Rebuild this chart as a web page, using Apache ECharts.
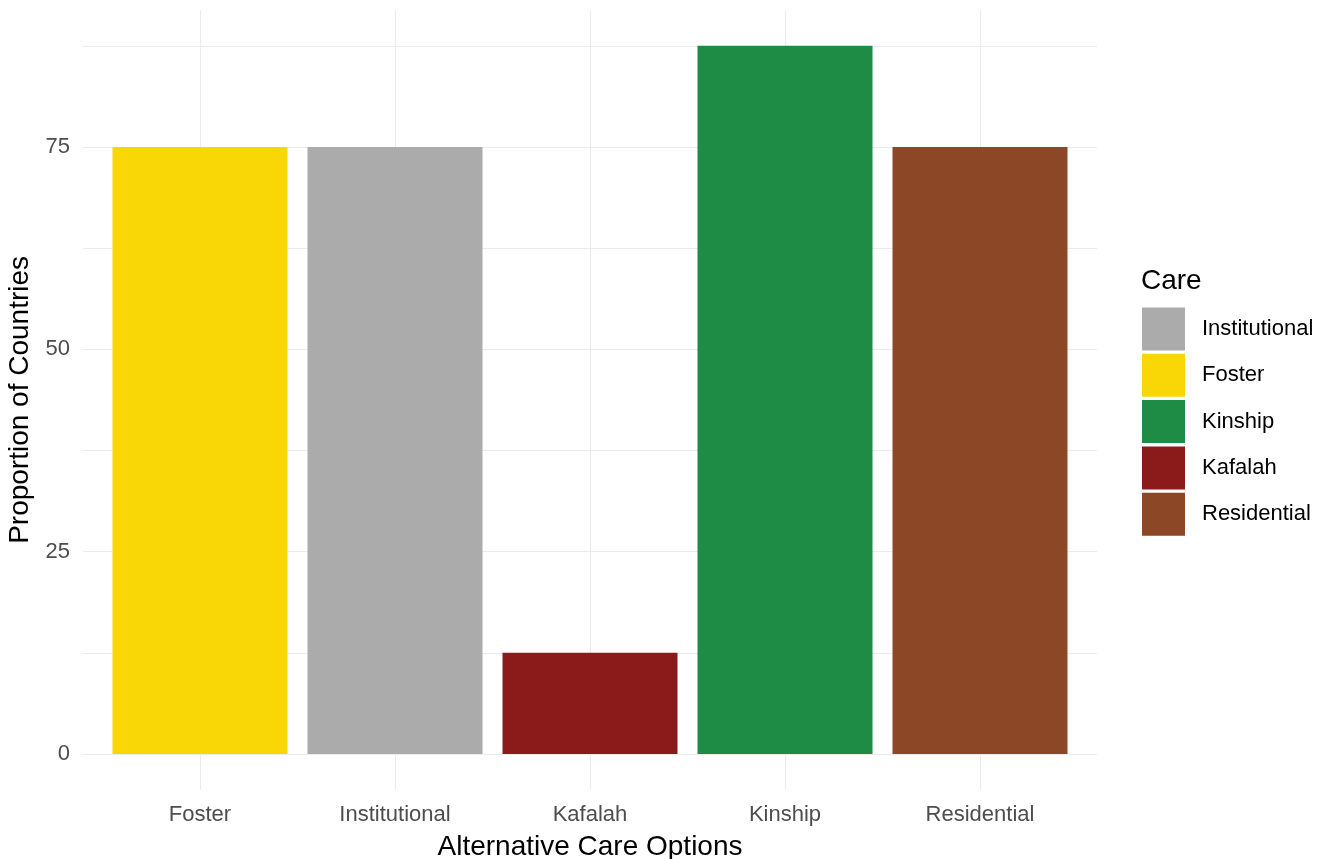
<!DOCTYPE html>
<html>
<head>
<meta charset="utf-8">
<script src="https://cdn.jsdelivr.net/npm/echarts@6/dist/echarts.min.js"></script>
<style>
  html, body { margin: 0; padding: 0; background: #fff; }
  #chart { width: 1328px; height: 859px; }
</style>
</head>
<body>
<div id="chart"></div>
<script>
// ---- data ----
const categories = ['Foster', 'Institutional', 'Kafalah', 'Kinship', 'Residential'];
const values = [75, 75, 12.5, 87.5, 75];
const legendOrder = ['Institutional', 'Foster', 'Kinship', 'Kafalah', 'Residential'];
const yTickLabels = [0, 25, 50, 75];
const yGridValues = [0, 12.5, 25, 37.5, 50, 62.5, 75, 87.5];

// ---- styles ----
const colorMap = {
  Foster: '#F9D605',
  Institutional: '#ABABAB',
  Kafalah: '#8B1A1A',
  Kinship: '#1E8C45',
  Residential: '#8B4726'
};
const FONT = '"Liberation Sans", Arial, sans-serif';

const positions = categories.map((c, i) => i + 1);
const yMax = Math.max(...values);
const pad = yMax * 0.05;

const chart = echarts.init(document.getElementById('chart'), null, { renderer: 'canvas' });

const series = categories.map((c, i) => ({
  name: c,
  type: 'bar',
  data: [[positions[i], values[i]]],
  barWidth: 175,
  barGap: '-100%',
  itemStyle: { color: colorMap[c] },
  emphasis: { disabled: true },
  animation: false
}));

chart.setOption({
  animation: false,
  backgroundColor: '#ffffff',
  textStyle: { fontFamily: FONT },
  title: {
    text: 'Care',
    left: 1141,
    top: 267,
    padding: 0,
    textStyle: { fontFamily: FONT, fontSize: 28, fontWeight: 'normal', color: '#000' }
  },
  legend: {
    orient: 'vertical',
    left: 1142,
    top: 307.5,
    padding: 0,
    itemWidth: 43,
    itemHeight: 43,
    itemGap: 3.3,
    icon: 'rect',
    data: legendOrder,
    selectedMode: false,
    textStyle: { fontFamily: FONT, fontSize: 22, color: '#000', padding: [3, 0, 0, 12] }
  },
  grid: {
    left: 83,
    right: 231,
    top: 10.4,
    bottom: 69.6,
    containLabel: false,
    outerBoundsMode: 'none'
  },
  xAxis: {
    type: 'value',
    min: 0.4,
    max: 5.6,
    name: 'Alternative Care Options',
    nameLocation: 'middle',
    nameGap: 44,
    nameTextStyle: { fontFamily: FONT, fontSize: 28, color: '#000' },
    axisLine: { show: false, onZero: false },
    axisTick: { show: false, customValues: positions },
    axisLabel: {
      customValues: positions,
      margin: 15,
      fontFamily: FONT,
      fontSize: 22,
      color: '#4D4D4D',
      formatter: v => categories[Math.round(v) - 1]
    },
    splitLine: { show: true, lineStyle: { color: '#EBEBEB', width: 1.1 } }
  },
  yAxis: {
    type: 'value',
    min: -pad,
    max: yMax + pad,
    name: 'Proportion of Countries',
    nameLocation: 'middle',
    nameGap: 34,
    nameTextStyle: { fontFamily: FONT, fontSize: 28, color: '#000' },
    axisLine: { show: false, onZero: false },
    axisTick: { show: false, customValues: yGridValues },
    axisLabel: {
      customValues: yTickLabels,
      margin: 13,
      fontFamily: FONT,
      fontSize: 22,
      color: '#4D4D4D',
      padding: [3, 0, 0, 0]
    },
    splitLine: { show: true, lineStyle: { color: '#EBEBEB', width: 1.1 } }
  },
  series: series
});
</script>
</body>
</html>
